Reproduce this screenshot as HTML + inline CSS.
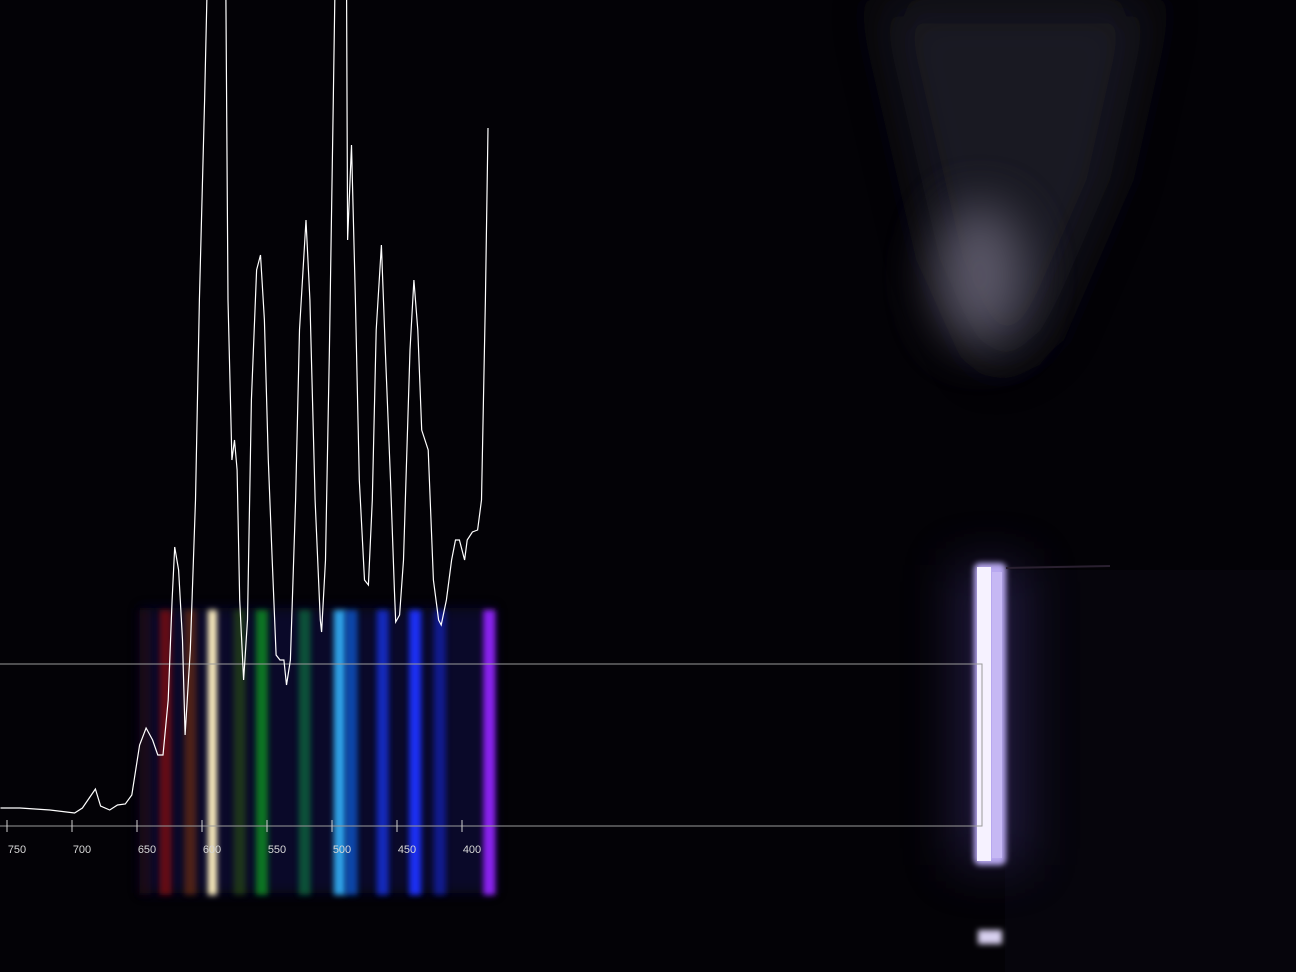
<!DOCTYPE html>
<html><head><meta charset="utf-8"><style>
html,body{margin:0;padding:0;background:#020104;width:1296px;height:972px;overflow:hidden}
svg{display:block}
</style></head><body>
<svg id="c" width="1296" height="972">
<defs>
<filter id="b6" x="-100%" y="-50%" width="300%" height="200%"><feGaussianBlur stdDeviation="6"/></filter>
<filter id="b3" x="-100%" y="-50%" width="300%" height="200%"><feGaussianBlur stdDeviation="3"/></filter>
<filter id="b20" x="-100%" y="-100%" width="300%" height="300%"><feGaussianBlur stdDeviation="25"/></filter>
<clipPath id="clip"><rect x="0" y="0" width="1296" height="972"/></clipPath>
</defs>
<rect width="1296" height="972" fill="#030206"/>
<g>
<rect x="1005" y="570" width="291" height="402" fill="#06050c"/>
<path d="M880,0 L1150,0 L1110,180 L1040,340 L990,370 L940,260 Z" fill="#1e1a28" filter="url(#b20)" opacity="0.9"/>
<ellipse cx="980" cy="275" rx="45" ry="70" fill="#6a6678" filter="url(#b20)" opacity="0.8"/>
<rect x="955" y="565" width="70" height="300" fill="#3a2e70" filter="url(#b20)" opacity="0.5"/>
<rect x="974" y="563" width="32" height="302" rx="6" fill="#b8a8f0" filter="url(#b3)"/>
<rect x="977" y="567" width="14" height="294" fill="#f6f2ff"/>
<rect x="992" y="572" width="10" height="286" fill="#c6b8f4"/>
<rect x="978" y="930" width="24" height="14" fill="#d8d0f0" filter="url(#b3)"/>
<line x1="1006" y1="568" x2="1110" y2="566" stroke="#2a2030" stroke-width="2"/>
</g>
<g id="bands"></g>
<g>
<polyline points="0,664 982,664 982,826 0,826" fill="none" stroke="#9a9a9a" stroke-width="1"/>
</g>
<g id="ticks"></g>
<g id="trace" clip-path="url(#clip)"></g>
</svg>
<script>
const tickLabels=[750,700,650,600,550,500,450,400];
const wavelengths=[755,740,717,698,692,682,678,671,665,659,654,648,643,638,634,630,626,623,621,618,615,613,609,605,602,598,595,594,582,580,577,575,573,571,568,565,562,558,555,552,549,546,543,540,537,535,532,528,525,520,517,513,509,508,505,502,499,497,489,488,485,482,479,475,472,469,466,462,459,455,452,451,448,445,440,437,434,431,426,422,418,416,412,408,405,402,398,396,392,388,385,382,380];
const intensity=[18,18,16,13,18,37,20,16,21,22,31,81,98,86,71,71,126,226,279,256,186,91,176,326,526,726,900,900,900,526,366,386,356,226,146,206,426,556,571,506,366,266,171,166,166,141,166,326,496,606,526,326,206,194,266,476,726,900,900,586,681,526,346,246,241,326,496,581,476,346,236,204,211,266,476,546,496,396,376,246,206,201,226,266,286,286,266,286,294,296,326,526,698];
const bandWl=[644,628,609,592,571,554,521,494,485,461,436,417,379];
const bandColor=["#300808","#8a1010","#7a3010","#fff0c0","#306010","#109020","#107040","#30a8f0","#1060e0","#1830e0","#1a30ff","#1828d0","#8a20f0"];
const bandAlpha=[0.4,0.7,0.6,1,0.5,0.8,0.7,0.95,0.7,0.8,0.95,0.6,1];
const NS="http://www.w3.org/2000/svg";
function xs(w){return 7+(750-w)*1.3;}
function ys(v){return 826-v;}
const bands=document.getElementById('bands');
const base=document.createElementNS(NS,'rect');
base.setAttribute('x',140);base.setAttribute('y',608);base.setAttribute('width',355);base.setAttribute('height',285);
base.setAttribute('fill','#0a0838');base.setAttribute('opacity','0.7');base.setAttribute('filter','url(#b6)');


bands.appendChild(base);
bandWl.forEach((w,i)=>{
 const r=document.createElementNS(NS,'rect');
 const wd=i===3?9:12;
 r.setAttribute('x',xs(w)-wd/2);r.setAttribute('y',610);r.setAttribute('width',wd);r.setAttribute('height',285);
 r.setAttribute('fill',bandColor[i]);r.setAttribute('opacity',bandAlpha[i]);r.setAttribute('filter','url(#b3)');
 
 
 bands.appendChild(r);
});
const ticks=document.getElementById('ticks');
tickLabels.forEach(t=>{
 const l=document.createElementNS(NS,'line');
 l.setAttribute('x1',xs(t));l.setAttribute('x2',xs(t));l.setAttribute('y1',820);l.setAttribute('y2',832);
 l.setAttribute('stroke','#cfcfcf');l.setAttribute('stroke-width','1');
 
 
 ticks.appendChild(l);
 const tx=document.createElementNS(NS,'text');
 tx.setAttribute('x',xs(t)+10);tx.setAttribute('y',853);tx.setAttribute('fill','#d8d8d8');
 tx.setAttribute('font-family','Liberation Sans, sans-serif');tx.setAttribute('font-size','11');tx.setAttribute('text-anchor','middle');
 tx.textContent=t;
 
 
 ticks.appendChild(tx);
});
const p=document.createElementNS(NS,'polyline');
p.setAttribute('points',wavelengths.map((w,i)=>xs(w).toFixed(1)+','+ys(intensity[i]).toFixed(1)).join(' '));
p.setAttribute('fill','none');p.setAttribute('stroke','#ffffff');p.setAttribute('stroke-width','1.2');


document.getElementById('trace').appendChild(p);
</script>
</body></html>
